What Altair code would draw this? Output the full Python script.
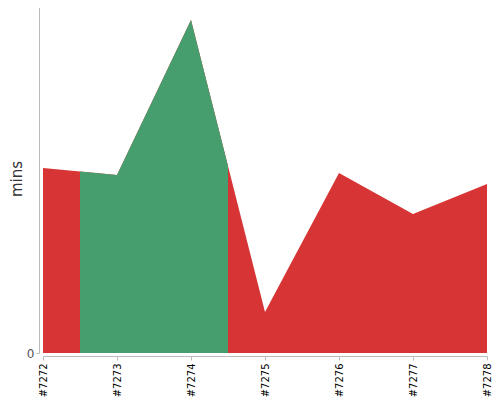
import altair as alt
import numpy as np
import pandas as pd

builds = [7272, 7273, 7274, 7275, 7276, 7277, 7278]
mins = [18.5, 17.8, 33.3, 4.1, 18.0, 13.9, 16.9]
highlight_start = 7272.5
highlight_end = 7274.5

df = pd.DataFrame({"build": builds, "mins": mins})

# green highlighted span, following the same line between its bounds
inner = [b for b in builds if highlight_start < b < highlight_end]
gx = [highlight_start] + inner + [highlight_end]
gy = list(np.interp(gx, builds, mins))
dg = pd.DataFrame({"build": gx, "mins": gy})

xscale = alt.Scale(domain=[7272, 7278], nice=False, zero=False)
yscale = alt.Scale(domain=[0, 34.9], nice=False)

xaxis = alt.Axis(values=builds, labelExpr="'#' + datum.value", labelAngle=270,
                 labelAlign="right", labelBaseline="middle", labelColor="#000",
                 labelFontSize=10, labelFont="DejaVu Sans", labelPadding=3,
                 domainColor="#bbb", tickColor="#bbb", tickSize=4, grid=False,
                 offset=3, title=None, labelFlush=False, labelOverlap=False)
yaxis = alt.Axis(values=[0], labelColor="#555", labelFontSize=12, labelFont="DejaVu Sans",
                 domainColor="#bbb", tickColor="#bbb", tickSize=3, grid=False,
                 offset=4, title="mins", titleFontSize=15, titleFont="DejaVu Sans",
                 titleFontWeight="normal", titleColor="#333", titlePadding=2)

red = alt.Chart(df).mark_area(color="#d73535").encode(
    x=alt.X("build:Q", scale=xscale, axis=xaxis),
    y=alt.Y("mins:Q", scale=yscale, axis=yaxis),
)
green = alt.Chart(dg).mark_area(color="#469d6e").encode(
    x=alt.X("build:Q", scale=xscale),
    y=alt.Y("mins:Q", scale=yscale),
)

chart = alt.layer(red, green).properties(
    width=444, height=349,
    autosize=alt.AutoSizeParams(type="none"),
    padding={"left": 35, "top": -4, "right": 5, "bottom": 46},
).configure_view(stroke=None)

chart.save("out.html", embed_options={"renderer": "svg", "actions": False})
